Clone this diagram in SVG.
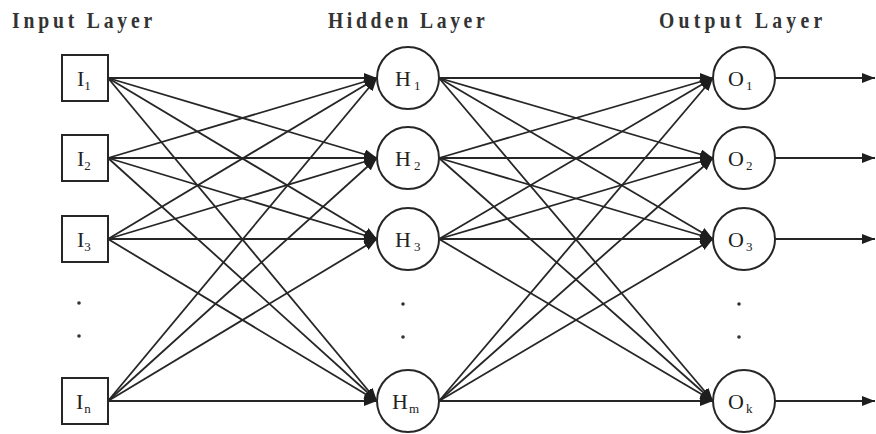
<svg xmlns="http://www.w3.org/2000/svg" width="876" height="434" viewBox="0 0 876 434">
<defs>
<marker id="arr" markerUnits="userSpaceOnUse" markerWidth="14" markerHeight="10" refX="13" refY="5" orient="auto">
<path d="M0,0 L13,5 L0,10 z" fill="#1e1e1e"/>
</marker>
<style>
.node{fill:#fff;stroke:#262626;stroke-width:2}
.lbl{font-family:"Liberation Serif","Times New Roman",serif;font-size:22px;fill:#222}
.sub{font-size:13px}
.title{font-family:"Liberation Serif","Times New Roman",serif;font-size:24px;font-weight:bold;fill:#333}
.conn line{stroke:#262626;stroke-width:1.8;marker-end:url(#arr)}
.dot{fill:#333}
</style>
</defs>
<rect width="876" height="434" fill="#fff"/>
<text class="title" transform="translate(12,28) scale(0.82,1)" x="0" y="0" textLength="171" lengthAdjust="spacing">Input Layer</text>
<text class="title" transform="translate(328,28) scale(0.82,1)" x="0" y="0" textLength="191" lengthAdjust="spacing">Hidden Layer</text>
<text class="title" transform="translate(659,28) scale(0.82,1)" x="0" y="0" textLength="199" lengthAdjust="spacing">Output Layer</text>
<g id="connectors" class="conn">
<line x1="108" y1="78" x2="377" y2="78"/><line x1="108" y1="78" x2="377" y2="158"/><line x1="108" y1="78" x2="377" y2="239"/><line x1="108" y1="78" x2="377" y2="401"/>
<line x1="108" y1="158" x2="377" y2="78"/><line x1="108" y1="158" x2="377" y2="158"/><line x1="108" y1="158" x2="377" y2="239"/><line x1="108" y1="158" x2="377" y2="401"/>
<line x1="108" y1="239" x2="377" y2="78"/><line x1="108" y1="239" x2="377" y2="158"/><line x1="108" y1="239" x2="377" y2="239"/><line x1="108" y1="239" x2="377" y2="401"/>
<line x1="108" y1="401" x2="377" y2="78"/><line x1="108" y1="401" x2="377" y2="158"/><line x1="108" y1="401" x2="377" y2="239"/><line x1="108" y1="401" x2="377" y2="401"/>
<line x1="439" y1="78" x2="713" y2="78"/><line x1="439" y1="78" x2="713" y2="158"/><line x1="439" y1="78" x2="713" y2="239"/><line x1="439" y1="78" x2="713" y2="401"/>
<line x1="439" y1="158" x2="713" y2="78"/><line x1="439" y1="158" x2="713" y2="158"/><line x1="439" y1="158" x2="713" y2="239"/><line x1="439" y1="158" x2="713" y2="401"/>
<line x1="439" y1="239" x2="713" y2="78"/><line x1="439" y1="239" x2="713" y2="158"/><line x1="439" y1="239" x2="713" y2="239"/><line x1="439" y1="239" x2="713" y2="401"/>
<line x1="439" y1="401" x2="713" y2="78"/><line x1="439" y1="401" x2="713" y2="158"/><line x1="439" y1="401" x2="713" y2="239"/><line x1="439" y1="401" x2="713" y2="401"/>
<line x1="775" y1="78" x2="875" y2="78"/><line x1="775" y1="158" x2="875" y2="158"/><line x1="775" y1="239" x2="875" y2="239"/><line x1="775" y1="401" x2="875" y2="401"/>
</g>
<g id="I1"><rect class="node" x="62" y="55" width="46" height="46"/><text class="lbl" x="77" y="86">I<tspan class="sub" dy="4">1</tspan></text></g>
<g id="I2"><rect class="node" x="62" y="135" width="46" height="46"/><text class="lbl" x="77" y="166">I<tspan class="sub" dy="4">2</tspan></text></g>
<g id="I3"><rect class="node" x="62" y="216" width="46" height="46"/><text class="lbl" x="77" y="247">I<tspan class="sub" dy="4">3</tspan></text></g>
<g id="In"><rect class="node" x="62" y="378" width="46" height="46"/><text class="lbl" x="76" y="409">I<tspan class="sub" dy="4" dx="1">n</tspan></text></g>
<g id="H1"><circle class="node" cx="408" cy="78" r="31"/><text class="lbl" x="395" y="86">H<tspan class="sub" dx="3" dy="4">1</tspan></text></g>
<g id="H2"><circle class="node" cx="408" cy="158" r="31"/><text class="lbl" x="395" y="166">H<tspan class="sub" dx="3" dy="4">2</tspan></text></g>
<g id="H3"><circle class="node" cx="408" cy="239" r="31"/><text class="lbl" x="395" y="247">H<tspan class="sub" dx="3" dy="4">3</tspan></text></g>
<g id="Hm"><circle class="node" cx="408" cy="401" r="31"/><text class="lbl" x="392" y="409">H<tspan class="sub" dx="1" dy="4">m</tspan></text></g>
<g id="O1"><circle class="node" cx="744" cy="78" r="31"/><text class="lbl" x="728" y="86">O<tspan class="sub" dx="2" dy="4">1</tspan></text></g>
<g id="O2"><circle class="node" cx="744" cy="158" r="31"/><text class="lbl" x="728" y="166">O<tspan class="sub" dx="2" dy="4">2</tspan></text></g>
<g id="O3"><circle class="node" cx="744" cy="239" r="31"/><text class="lbl" x="728" y="247">O<tspan class="sub" dx="2" dy="4">3</tspan></text></g>
<g id="Ok"><circle class="node" cx="744" cy="401" r="31"/><text class="lbl" x="728" y="409">O<tspan class="sub" dx="2" dy="4">k</tspan></text></g>
<g id="dots">
<circle class="dot" cx="79" cy="303" r="1.8"/><circle class="dot" cx="79" cy="336" r="1.8"/>
<circle class="dot" cx="403" cy="304" r="1.8"/><circle class="dot" cx="403" cy="337" r="1.8"/>
<circle class="dot" cx="739" cy="304" r="1.8"/><circle class="dot" cx="739" cy="337" r="1.8"/>
</g>
</svg>
